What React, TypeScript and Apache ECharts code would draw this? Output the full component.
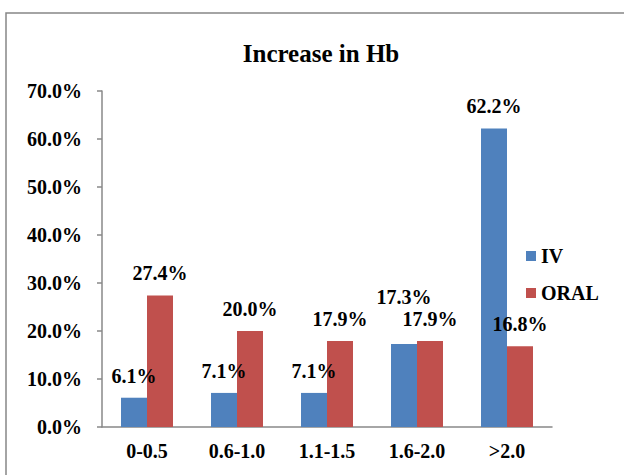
import React, { useEffect, useRef } from "react";
import * as echarts from "echarts";

const categories = ["0-0.5", "0.6-1.0", "1.1-1.5", "1.6-2.0", ">2.0"];
const ivValues = [6.1, 7.1, 7.1, 17.3, 62.2];
const oralValues = [27.4, 20.0, 17.9, 17.9, 16.8];
const yTicks = [0, 10, 20, 30, 40, 50, 60, 70];

const FONT = "Liberation Serif, Times New Roman, serif";

export default function App() {
  const ref = useRef<HTMLDivElement>(null);
  useEffect(() => {
    if (!ref.current) return;
    const chart = echarts.init(ref.current, null, { renderer: "svg" });
    const labelBase = {
      show: true,
      position: "top",
      distance: 12,
      color: "#000",
      fontFamily: FONT,
      fontWeight: "bold",
      fontSize: 20,
      formatter: (p: any) => Number(p.value).toFixed(1) + "%",
    };
    chart.setOption({
      animation: false,
      backgroundColor: "#fff",
      textStyle: { fontFamily: FONT },
      title: {
        text: "Increase in Hb",
        left: 316,
        textAlign: "center",
        top: 36,
        textStyle: { fontFamily: FONT, fontWeight: "bold", fontSize: 25, color: "#000" },
      },
      legend: {
        orient: "vertical",
        left: 521,
        top: 241,
        itemWidth: 10,
        itemHeight: 10,
        itemGap: 17,
        icon: "rect",
        textStyle: { fontFamily: FONT, fontWeight: "bold", fontSize: 20, color: "#000" },
        data: ["IV", "ORAL"],
      },
      grid: { left: 102, right: 72, top: 91, bottom: 48, containLabel: false },
      xAxis: {
        type: "category",
        data: categories,
        axisLine: { lineStyle: { color: "#888", width: 1.5 } },
        axisTick: { show: false },
        axisLabel: { fontFamily: FONT, fontWeight: "bold", fontSize: 20, color: "#000", margin: 14 },
      },
      yAxis: {
        type: "value",
        min: yTicks[0],
        max: yTicks[yTicks.length - 1],
        interval: 10,
        axisLine: { show: true, lineStyle: { color: "#888", width: 1.5 } },
        axisTick: { show: true, length: 5, lineStyle: { color: "#888", width: 1.5 } },
        splitLine: { show: false },
        axisLabel: {
          fontFamily: FONT,
          fontWeight: "bold",
          fontSize: 20,
          color: "#000",
          margin: 20,
          formatter: (v: number) => v.toFixed(1) + "%",
        },
      },
      series: [
        {
          name: "IV",
          type: "bar",
          barWidth: 26,
          barGap: "0%",
          itemStyle: { color: "#4F81BD" },
          label: labelBase,
          data: ivValues.map((v, i) =>
            i === 3 ? { value: v, label: { distance: 37 } } : v
          ),
        },
        {
          name: "ORAL",
          type: "bar",
          barWidth: 26,
          barGap: "0%",
          itemStyle: { color: "#C0504D" },
          label: labelBase,
          data: oralValues,
        },
      ],
      graphic: [
        {
          type: "rect",
          shape: { x: 6, y: 13, width: 700, height: 600 },
          style: { fill: "none", stroke: "#868686", lineWidth: 1.5 },
          silent: true,
        },
      ],
    });
    return () => chart.dispose();
  }, []);
  return (
    <div
      ref={ref}
      style={{ position: "fixed", left: 0, top: 0, width: 624, height: 475 }}
    />
  );
}
